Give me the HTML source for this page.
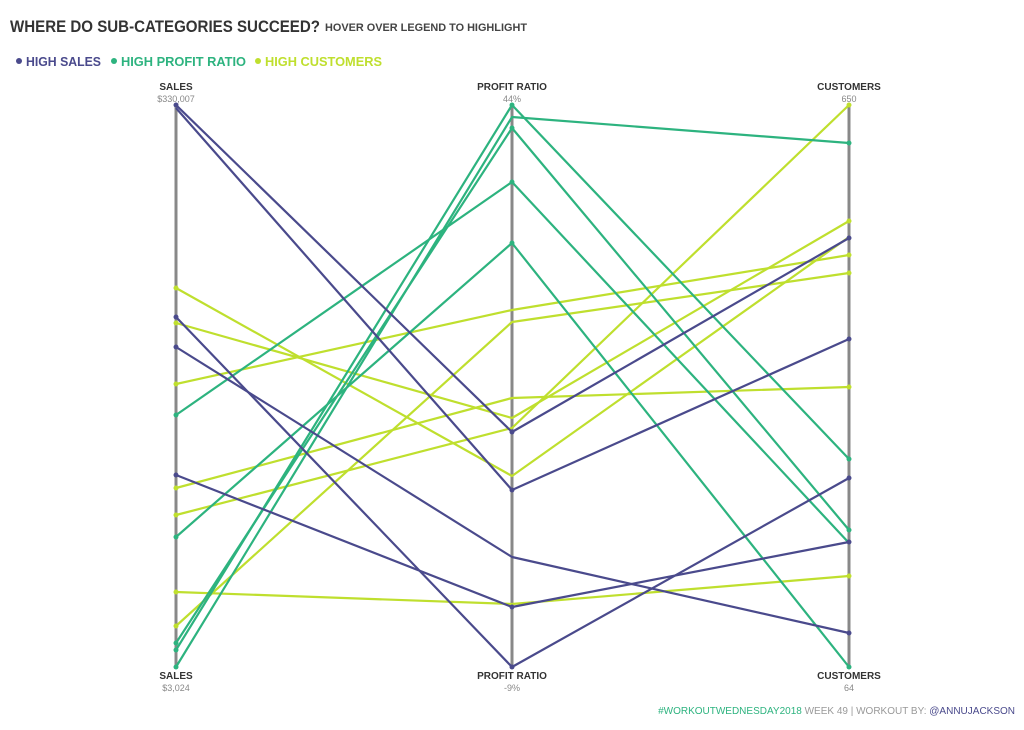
<!DOCTYPE html>
<html><head><meta charset="utf-8"><style>
body{margin:0;background:#fff;width:1024px;height:725px;overflow:hidden;font-family:"Liberation Sans",sans-serif}
</style></head><body>
<svg width="1024" height="725" xmlns="http://www.w3.org/2000/svg" font-family="Liberation Sans, sans-serif">
<text x="10" y="32" font-size="17" font-weight="bold" fill="#333" textLength="310" lengthAdjust="spacingAndGlyphs">WHERE DO SUB-CATEGORIES SUCCEED?</text>
<text x="325" y="31" font-size="11" font-weight="bold" fill="#444" textLength="202" lengthAdjust="spacingAndGlyphs">HOVER OVER LEGEND TO HIGHLIGHT</text>
<circle cx="19" cy="61" r="3" fill="#4a4a8c"/><text x="26" y="66" font-size="13" font-weight="bold" fill="#4a4a8c" textLength="75" lengthAdjust="spacingAndGlyphs">HIGH SALES</text>
<circle cx="114" cy="61" r="3" fill="#2db37f"/><text x="121" y="66" font-size="13" font-weight="bold" fill="#2db37f" textLength="125" lengthAdjust="spacingAndGlyphs">HIGH PROFIT RATIO</text>
<circle cx="258" cy="61" r="3" fill="#bfdf2e"/><text x="265" y="66" font-size="13" font-weight="bold" fill="#bfdf2e" textLength="117" lengthAdjust="spacingAndGlyphs">HIGH CUSTOMERS</text>
<g font-size="10" text-anchor="middle">
<text x="176" y="90" font-weight="bold" fill="#333">SALES</text><text x="176" y="102" fill="#888" font-size="9">$330,007</text>
<text x="512" y="90" font-weight="bold" fill="#333">PROFIT RATIO</text><text x="512" y="102" fill="#888" font-size="9">44%</text>
<text x="849" y="90" font-weight="bold" fill="#333">CUSTOMERS</text><text x="849" y="102" fill="#888" font-size="9">650</text>
<text x="176" y="679" font-weight="bold" fill="#333">SALES</text><text x="176" y="691" fill="#888" font-size="9">$3,024</text>
<text x="512" y="679" font-weight="bold" fill="#333">PROFIT RATIO</text><text x="512" y="691" fill="#888" font-size="9">-9%</text>
<text x="849" y="679" font-weight="bold" fill="#333">CUSTOMERS</text><text x="849" y="691" fill="#888" font-size="9">64</text>
</g>
<g stroke="#888" stroke-width="3"><line x1="176" y1="105" x2="176" y2="667"/><line x1="512" y1="105" x2="512" y2="667"/><line x1="849" y1="105" x2="849" y2="667"/></g>
<g fill="none" stroke-width="2.2" stroke-linejoin="round">
<g stroke="#bfdf2e">
<polyline points="176,288 512,476 849,237"/>
<polyline points="176,323 512,418 849,221"/>
<polyline points="176,384 512,310 849,255"/>
<polyline points="176,488 512,398 849,387"/>
<polyline points="176,515 512,428 849,105"/>
<polyline points="176,592 512,604 849,576"/>
<polyline points="176,626 512,322 849,273"/>
</g>
<g stroke="#2db37f">
<polyline points="176,667 512,117 849,143"/>
<polyline points="176,650 512,105 849,459"/>
<polyline points="176,643 512,128 849,530"/>
<polyline points="176,415 512,182 849,543"/>
<polyline points="176,537 512,243 849,667"/>
</g>
<g stroke="#4a4a8c">
<polyline points="176,105 512,432 849,238"/>
<polyline points="176,108 512,490 849,339"/>
<polyline points="176,317 512,667 849,478"/>
<polyline points="176,347 512,557 849,633"/>
<polyline points="176,475 512,607 849,542"/>
</g>
</g>
<g>
<g fill="#bfdf2e"><circle cx="176" cy="288" r="2.5"/><circle cx="176" cy="323" r="2.5"/><circle cx="176" cy="384" r="2.5"/><circle cx="176" cy="488" r="2.5"/><circle cx="176" cy="515" r="2.5"/><circle cx="176" cy="592" r="2.5"/><circle cx="176" cy="626" r="2.5"/>
<circle cx="849" cy="105" r="2.5"/><circle cx="849" cy="221" r="2.5"/><circle cx="849" cy="255" r="2.5"/><circle cx="849" cy="273" r="2.5"/><circle cx="849" cy="387" r="2.5"/><circle cx="849" cy="576" r="2.5"/></g>
<g fill="#2db37f"><circle cx="176" cy="667" r="2.5"/><circle cx="176" cy="650" r="2.5"/><circle cx="176" cy="643" r="2.5"/><circle cx="176" cy="415" r="2.5"/><circle cx="176" cy="537" r="2.5"/>
<circle cx="512" cy="105" r="2.5"/><circle cx="512" cy="128" r="2.5"/><circle cx="512" cy="182" r="2.5"/><circle cx="512" cy="243" r="2.5"/>
<circle cx="849" cy="143" r="2.5"/><circle cx="849" cy="459" r="2.5"/><circle cx="849" cy="530" r="2.5"/><circle cx="849" cy="667" r="2.5"/></g>
<g fill="#4a4a8c"><circle cx="176" cy="105" r="2.5"/><circle cx="176" cy="317" r="2.5"/><circle cx="176" cy="347" r="2.5"/><circle cx="176" cy="475" r="2.5"/>
<circle cx="512" cy="432" r="2.5"/><circle cx="512" cy="490" r="2.5"/><circle cx="512" cy="667" r="2.5"/><circle cx="512" cy="607" r="2.5"/>
<circle cx="849" cy="238" r="2.5"/><circle cx="849" cy="339" r="2.5"/><circle cx="849" cy="478" r="2.5"/><circle cx="849" cy="633" r="2.5"/><circle cx="849" cy="542" r="2.5"/></g>
</g>
<text x="1015" y="714" font-size="10" text-anchor="end" fill="#999"><tspan fill="#2db37f">#WORKOUTWEDNESDAY2018</tspan> WEEK 49 | WORKOUT BY: <tspan fill="#4a4a8c">@ANNUJACKSON</tspan></text>
</svg>
</body></html>
